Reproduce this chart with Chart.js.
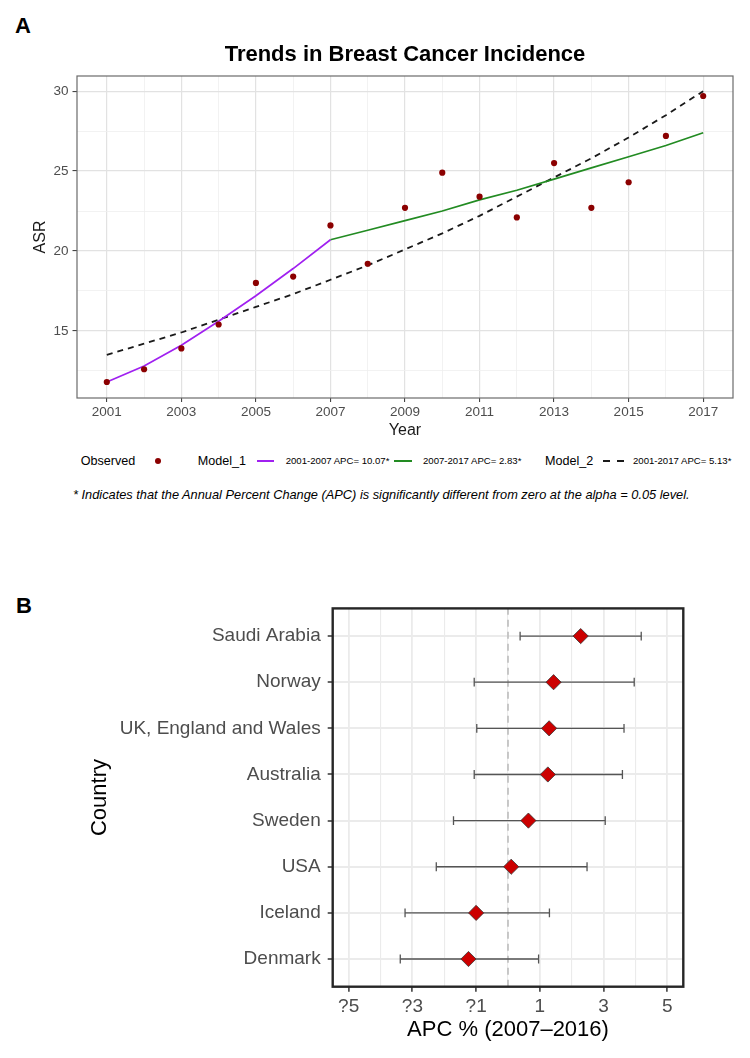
<!DOCTYPE html>
<html>
<head>
<meta charset="utf-8">
<script src="https://cdn.jsdelivr.net/npm/chart.js@4.4.1/dist/chart.umd.min.js"></script>
<style>
  html, body { margin: 0; padding: 0; background: #fff; }
  body { position: relative; width: 750px; height: 1058px; overflow: hidden;
         font-family: 'Liberation Sans', Arial, Helvetica, sans-serif; }
  .tag { position: absolute; font-weight: bold; font-size: 22px; line-height: 22px; color: #000; }
  .wrap { position: absolute; left: 0; width: 750px; }
  .lg { position: absolute; top: 461px; transform: translateY(-50%); white-space: nowrap; line-height: 1; color: #000; }
  .big { font-size: 12.6px; }
  .small { font-size: 9.6px; }
  .sym { position: absolute; top: 461px; }
  .note { position: absolute; left: 73px; top: 494px; transform: translateY(-50%);
          font-size: 12.8px; font-style: italic; white-space: nowrap; color: #000; }
</style>
</head>
<body>
<div class="tag" style="left:15px; top:15px;">A</div>
<div class="wrap" style="top:0; height:450px;"><canvas id="trendChart"></canvas></div>

<!-- legend of panel A -->
<div class="lg big" style="left:80.7px;">Observed</div>
<div class="sym" id="symObserved" style="left:155.3px; width:6px; height:6px; margin-top:-3px; border-radius:50%;"></div>
<div class="lg big" style="left:197.7px;">Model_1</div>
<div class="sym" id="symSeg1" style="left:256.7px; width:17.6px; height:2px; margin-top:-1px;"></div>
<div class="lg small" style="left:285.7px;">2001-2007 APC= 10.07*</div>
<div class="sym" id="symSeg2" style="left:394.3px; width:17.4px; height:2px; margin-top:-1px;"></div>
<div class="lg small" style="left:423px;">2007-2017 APC= 2.83*</div>
<div class="lg big" style="left:545px;">Model_2</div>
<div class="sym symDash" style="left:603.3px; width:7px; height:2px; margin-top:-1px;"></div>
<div class="sym symDash" style="left:616.5px; width:7px; height:2px; margin-top:-1px;"></div>
<div class="lg small" style="left:633px;">2001-2017 APC= 5.13*</div>
<div class="note">* Indicates that the Annual Percent Change (APC) is significantly different from zero at the alpha = 0.05 level.</div>

<div class="tag" style="left:16px; top:595px;">B</div>
<div class="wrap" style="top:590px; height:468px;"><canvas id="apcChart"></canvas></div>

<script>
// ---- panel A data ----
const years = [2001, 2002, 2003, 2004, 2005, 2006, 2007, 2008, 2009, 2010, 2011, 2012, 2013, 2014, 2015, 2016, 2017];
const yearTickLabels = ['2001', '2003', '2005', '2007', '2009', '2011', '2013', '2015', '2017'];
const observedASR = [11.8, 12.6, 13.9, 15.4, 18.0, 18.4, 21.6, 19.2, 22.7, 24.9, 23.4, 22.1, 25.5, 22.7, 24.3, 27.2, 29.7];
const model1YearsA = [2001, 2002, 2003, 2004, 2005, 2006, 2007];
const model1FitA = [11.8, 12.8, 14.1, 15.6, 17.2, 18.9, 20.7];
const model1YearsB = [2007, 2008, 2009, 2010, 2011, 2012, 2013, 2014, 2015, 2016, 2017];
const model1FitB = [20.7, 21.3, 21.9, 22.5, 23.2, 23.8, 24.5, 25.2, 25.9, 26.6, 27.4];
const model2Fit = [13.5, 14.2, 14.9, 15.7, 16.5, 17.3, 18.2, 19.1, 20.1, 21.1, 22.2, 23.4, 24.6, 25.8, 27.1, 28.5, 30.0];
const asrTicks = [15, 20, 25, 30];
const asrGrid = [12.5, 15, 17.5, 20, 22.5, 25, 27.5, 30];

// ---- panel B data (top to bottom) ----
const countries = ['Saudi Arabia', 'Norway', 'UK, England and Wales', 'Australia', 'Sweden', 'USA', 'Iceland', 'Denmark'];
const apc = [2.28, 1.43, 1.29, 1.25, 0.64, 0.10, -1.00, -1.24];
const apcLower = [0.38, -1.06, -0.98, -1.06, -1.71, -2.25, -3.23, -3.38];
const apcUpper = [4.18, 3.96, 3.64, 3.59, 3.05, 2.48, 1.30, 0.96];
const apcTickValues = [-5, -3, -1, 1, 3, 5];
const apcTickLabels = ['?5', '?3', '?1', '1', '3', '5'];
const apcGrid = [-5, -4, -3, -2, -1, 0, 1, 2, 3, 4, 5];
const apcRef = 0;

const colors = {
  observed: '#8B0000',
  seg1: '#A020F0',
  seg2: '#228B22',
  model2: '#1a1a1a',
  diamond: '#CC0000'
};

Chart.defaults.font.family = "'Liberation Sans', Arial, Helvetica, sans-serif";
Chart.defaults.color = '#4D4D4D';

// frame round the plotting area (ggplot panel border)
const panelBorder = {
  id: 'panelBorder',
  afterDatasetsDraw(chart, args, opts) {
    const { ctx, chartArea: a } = chart;
    ctx.save();
    ctx.strokeStyle = opts.color;
    ctx.lineWidth = opts.width;
    ctx.strokeRect(a.left, a.top, a.right - a.left, a.bottom - a.top);
    ctx.restore();
  }
};

const pts = (xs, ys) => xs.map((x, i) => ({ x: x, y: ys[i] }));
const isOddYear = c => c.tick && c.tick.value % 2 === 1;
const isMajorAsr = c => c.tick && asrTicks.includes(c.tick.value);

// ---- panel A ----
new Chart(document.getElementById('trendChart'), {
  type: 'scatter',
  data: {
    datasets: [
      { label: 'Observed', data: pts(years, observedASR), backgroundColor: colors.observed,
        borderColor: colors.observed, pointRadius: 3.1, borderWidth: 0 },
      { label: '2001-2007 APC= 10.07*', data: pts(model1YearsA, model1FitA), showLine: true,
        borderColor: colors.seg1, borderWidth: 1.7, pointRadius: 0, fill: false },
      { label: '2007-2017 APC= 2.83*', data: pts(model1YearsB, model1FitB), showLine: true,
        borderColor: colors.seg2, borderWidth: 1.7, pointRadius: 0, fill: false },
      { label: '2001-2017 APC= 5.13*', data: pts(years, model2Fit), showLine: true,
        borderColor: colors.model2, borderWidth: 1.8, borderDash: [6, 5], pointRadius: 0, fill: false }
    ]
  },
  options: {
    responsive: true,
    maintainAspectRatio: false,
    animation: false,
    layout: { padding: { left: 0, right: 17, top: 0, bottom: 0 } },
    plugins: {
      legend: { display: false },
      tooltip: { enabled: false },
      title: {
        display: true, fullSize: false, text: 'Trends in Breast Cancer Incidence',
        color: '#000', font: { size: 22, weight: 'bold' }, padding: { top: 41.8, bottom: 7.8 }
      },
      panelBorder: { color: '#6b6b6b', width: 1.2 }
    },
    scales: {
      x: {
        type: 'linear', min: 2000.2, max: 2017.8,
        afterBuildTicks: s => { s.ticks = years.map(v => ({ value: v })); },
        afterFit: s => { s.height = 52; },
        ticks: {
          autoSkip: false, maxRotation: 0, padding: 2, font: { size: 13.5 }, color: '#4D4D4D',
          callback: v => yearTickLabels.includes(String(v)) ? String(v) : ''
        },
        grid: {
          color: c => isOddYear(c) ? '#E2E2E2' : '#EFEFEF',
          lineWidth: c => isOddYear(c) ? 1.2 : 0.8,
          tickColor: c => isOddYear(c) ? '#333333' : 'rgba(0,0,0,0)',
          tickLength: 4, tickWidth: 1
        },
        border: { display: false },
        title: { display: true, text: 'Year', color: '#1a1a1a', font: { size: 16 }, padding: { top: 0, bottom: 9.4 } }
      },
      y: {
        type: 'linear', min: 10.8, max: 30.95,
        afterBuildTicks: s => { s.ticks = asrGrid.map(v => ({ value: v })); },
        afterFit: s => { s.width = 77; },
        ticks: {
          autoSkip: false, padding: 4, font: { size: 13.5 }, color: '#4D4D4D',
          callback: v => asrTicks.includes(v) ? String(v) : ''
        },
        grid: {
          color: c => isMajorAsr(c) ? '#E2E2E2' : '#EFEFEF',
          lineWidth: c => isMajorAsr(c) ? 1.2 : 0.8,
          tickColor: c => isMajorAsr(c) ? '#333333' : 'rgba(0,0,0,0)',
          tickLength: 4.5, tickWidth: 1
        },
        border: { display: false },
        title: { display: true, text: 'ASR', color: '#1a1a1a', font: { size: 16 }, padding: { top: 31.4, bottom: 0 } }
      }
    }
  },
  plugins: [panelBorder]
});

// legend symbols take the series colours
document.getElementById('symObserved').style.background = colors.observed;
document.getElementById('symSeg1').style.background = colors.seg1;
document.getElementById('symSeg2').style.background = colors.seg2;
document.querySelectorAll('.symDash').forEach(d => { d.style.background = colors.model2; });

// ---- panel B ----
const rowMin = 0.4, rowMax = 8.6;
const rowOf = i => countries.length - i;   // first country on top

const ciLines = [];
const ciCaps = [];
countries.forEach((c, i) => {
  ciLines.push({ x: apcLower[i], y: rowOf(i) }, { x: apcUpper[i], y: rowOf(i) }, { x: null, y: null });
  ciCaps.push({ x: apcLower[i], y: rowOf(i) }, { x: apcUpper[i], y: rowOf(i) });
});
const isMajorApc = c => c.tick && apcTickValues.includes(c.tick.value);

new Chart(document.getElementById('apcChart'), {
  type: 'scatter',
  data: {
    datasets: [
      { label: 'APC', data: countries.map((c, i) => ({ x: apc[i], y: rowOf(i) })),
        pointStyle: 'rectRot', pointRadius: 7.6, backgroundColor: colors.diamond,
        borderColor: '#333333', borderWidth: 0.8 },
      { label: 'caps', data: ciCaps, pointStyle: 'line', rotation: 90, pointRadius: 4.4,
        borderColor: '#555555', borderWidth: 1.3 },
      { label: '95% CI', data: ciLines, showLine: true, spanGaps: false, pointRadius: 0,
        borderColor: '#555555', borderWidth: 1.3 },
      { label: 'zero', data: [{ x: apcRef, y: rowMin }, { x: apcRef, y: rowMax }], showLine: true,
        pointRadius: 0, borderColor: '#BDBDBD', borderWidth: 1.6, borderDash: [7, 5] }
    ]
  },
  options: {
    responsive: true,
    maintainAspectRatio: false,
    animation: false,
    layout: { padding: { left: 0, right: 66.7, top: 14, bottom: 0 } },
    plugins: {
      legend: { display: false },
      tooltip: { enabled: false },
      panelBorder: { color: '#262626', width: 2.4 }
    },
    scales: {
      x: {
        type: 'linear', min: -5.5, max: 5.5,
        afterBuildTicks: s => { s.ticks = apcGrid.map(v => ({ value: v })); },
        afterFit: s => { s.height = 71.3; },
        ticks: {
          autoSkip: false, maxRotation: 0, padding: 3.6, font: { size: 19 }, color: '#4D4D4D',
          callback: v => { const k = apcTickValues.indexOf(v); return k < 0 ? '' : apcTickLabels[k]; }
        },
        grid: {
          color: '#EBEBEB',
          lineWidth: c => isMajorApc(c) ? 1.8 : 1.1,
          tickColor: c => isMajorApc(c) ? '#333333' : 'rgba(0,0,0,0)',
          tickLength: 5, tickWidth: 1.5
        },
        border: { display: false },
        title: { display: true, text: 'APC % (2007–2016)', color: '#000', font: { size: 22 }, padding: { top: 0, bottom: 14.8 } }
      },
      y: {
        type: 'linear', min: rowMin, max: rowMax,
        afterBuildTicks: s => { s.ticks = countries.map((c, i) => ({ value: i + 1 })); },
        afterFit: s => { s.width = 332.7; },
        ticks: {
          autoSkip: false, padding: 7, font: { size: 19 }, color: '#4D4D4D',
          callback: v => countries[countries.length - v]
        },
        grid: { color: '#EBEBEB', lineWidth: 2, tickColor: '#333333', tickLength: 5, tickWidth: 1.5 },
        border: { display: false },
        title: { display: true, text: 'Country', color: '#000', font: { size: 22 }, padding: { top: 86.8, bottom: 0 } }
      }
    }
  },
  plugins: [panelBorder]
});
</script>
</body>
</html>
